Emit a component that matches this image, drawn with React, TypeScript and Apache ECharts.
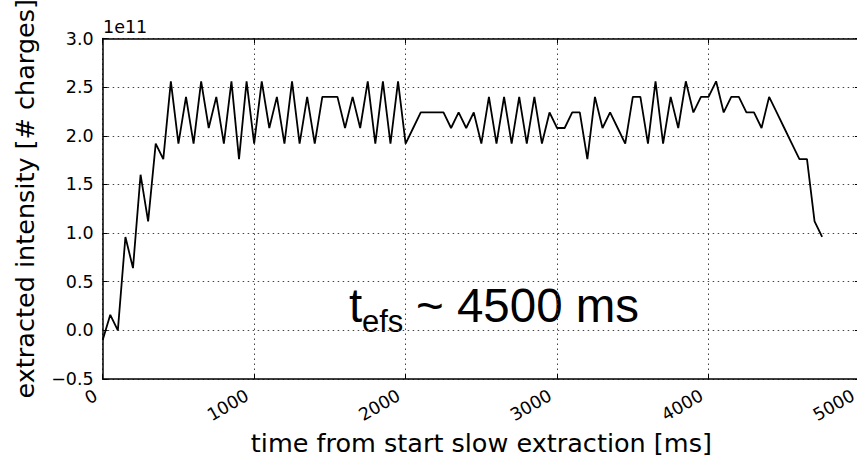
import React, { useEffect, useRef } from "react";
import * as echarts from "echarts";

// time from start of slow extraction [ms]
const timesMs = [
  0, 50, 100, 150, 200, 250, 300, 350, 400, 450,
  500, 550, 600, 650, 700, 750, 800, 850, 900, 950,
  1000, 1050, 1100, 1150, 1200, 1250, 1300, 1350, 1400, 1450,
  1500, 1550, 1600, 1650, 1700, 1750, 1800, 1850, 1900, 1950,
  2000, 2050, 2100, 2150, 2200, 2250, 2300, 2350, 2400, 2450,
  2500, 2550, 2600, 2650, 2700, 2750, 2800, 2850, 2900, 2950,
  3000, 3050, 3100, 3150, 3200, 3250, 3300, 3350, 3400, 3450,
  3500, 3550, 3600, 3650, 3700, 3750, 3800, 3850, 3900, 3950,
  4000, 4050, 4100, 4150, 4200, 4250, 4300, 4350, 4400, 4450,
  4500, 4550, 4600, 4650, 4700, 4750,
];

// extracted intensity [# charges], in units of 1e11
const intensity = [
  -0.1, 0.16, 0.0, 0.96, 0.64, 1.6, 1.12, 1.92, 1.76, 2.56,
  1.92, 2.4, 1.92, 2.56, 2.08, 2.4, 1.92, 2.56, 1.76, 2.56,
  1.92, 2.56, 2.08, 2.4, 1.92, 2.56, 1.92, 2.4, 1.92, 2.4,
  2.4, 2.4, 2.08, 2.4, 2.08, 2.56, 1.92, 2.56, 1.92, 2.56,
  1.92, 2.08, 2.24, 2.24, 2.24, 2.24, 2.08, 2.24, 2.08, 2.24,
  1.92, 2.4, 1.92, 2.4, 1.92, 2.4, 1.92, 2.4, 1.92, 2.24,
  2.08, 2.08, 2.24, 2.24, 1.76, 2.4, 2.08, 2.24, 2.08, 1.92,
  2.4, 2.4, 1.92, 2.56, 1.92, 2.4, 2.08, 2.56, 2.24, 2.4,
  2.4, 2.56, 2.24, 2.4, 2.4, 2.24, 2.24, 2.08, 2.4, 2.24,
  2.08, 1.92, 1.76, 1.76, 1.12, 0.96,
];

const xTitle = "time from start slow extraction [ms]";
const yTitle = "extracted intensity [# charges]";
const offsetText = "1e11";
const annotationMain = "t";
const annotationSub = "efs";
const annotationRest = "~ 4500 ms";

const TICK_FONT = "DejaVu Sans";
const ANNOT_FONT = "Liberation Sans";

export default function App() {
  const ref = useRef<HTMLDivElement>(null);

  useEffect(() => {
    if (!ref.current) return;
    const chart = echarts.init(ref.current, undefined, { renderer: "svg" });
    const data = timesMs.map((t, i) => [t, intensity[i]]);

    const gridLine = {
      show: true,
      lineStyle: { color: "#444", width: 1, type: [1.5, 3.5] as any },
    };
    const tickCommon = { show: true, inside: true, length: 5, lineStyle: { color: "#000", width: 1 } };

    chart.setOption({
      animation: false,
      backgroundColor: "#fff",
      grid: {
        left: 102.7,
        right: 10,
        top: 38.5,
        bottom: 78,
        containLabel: false,
        outerBoundsMode: "none",
      },
      xAxis: [
        {
          type: "value",
          min: 0,
          max: 5000,
          interval: 1000,
          position: "bottom",
          name: xTitle,
          nameLocation: "middle",
          nameGap: 51,
          nameTextStyle: { fontFamily: TICK_FONT, fontSize: 25.5, color: "#000" },
          axisLine: { show: true, onZero: false, lineStyle: { color: "#000", width: 1.5 } },
          axisTick: tickCommon,
          axisLabel: {
            rotate: 30,
            margin: 11,
            padding: [0, 8, 0, 0],
            fontFamily: TICK_FONT,
            fontSize: 17.5,
            color: "#000",
            showMinLabel: true,
            showMaxLabel: true,
            formatter: (v: number) => String(v),
          },
          splitLine: gridLine,
        },
        {
          type: "value",
          min: 0,
          max: 5000,
          interval: 1000,
          position: "top",
          axisLine: { show: true, onZero: false, lineStyle: { color: "#000", width: 1.5 } },
          axisTick: tickCommon,
          axisLabel: { show: false },
          splitLine: { show: false },
        },
      ],
      yAxis: [
        {
          type: "value",
          min: -0.5,
          max: 3.0,
          interval: 0.5,
          position: "left",
          name: yTitle,
          nameLocation: "middle",
          nameGap: 65,
          nameRotate: 90,
          nameTextStyle: {
            fontFamily: TICK_FONT,
            fontSize: 25.5,
            color: "#000",
            padding: [0, 0, 0, 20],
          },
          axisLine: { show: true, onZero: false, lineStyle: { color: "#000", width: 1.5 } },
          axisTick: tickCommon,
          axisLabel: {
            margin: 9,
            fontFamily: TICK_FONT,
            fontSize: 17.5,
            color: "#000",
            formatter: (v: number) => v.toFixed(1).replace("-", "\u2212"),
          },
          splitLine: gridLine,
        },
        {
          type: "value",
          min: -0.5,
          max: 3.0,
          interval: 0.5,
          position: "right",
          axisLine: { show: true, onZero: false, lineStyle: { color: "#000", width: 1.5 } },
          axisTick: tickCommon,
          axisLabel: { show: false },
          splitLine: { show: false },
        },
      ],
      series: [
        {
          type: "line",
          data,
          xAxisIndex: 0,
          yAxisIndex: 0,
          symbol: "none",
          lineStyle: { color: "#000", width: 1.8 },
        },
      ],
      graphic: [
        {
          type: "text",
          x: 103,
          y: 26.8,
          style: {
            text: offsetText,
            font: `17.5px "${TICK_FONT}"`,
            fill: "#000",
            textAlign: "left",
            textVerticalAlign: "middle",
          },
        },
        {
          type: "text",
          x: 349,
          y: 305.5,
          style: {
            text: annotationMain,
            font: `47.5px "${ANNOT_FONT}"`,
            fill: "#000",
            textAlign: "left",
            textVerticalAlign: "middle",
          },
        },
        {
          type: "text",
          x: 362,
          y: 321.5,
          style: {
            text: annotationSub,
            font: `31px "${ANNOT_FONT}"`,
            fill: "#000",
            textAlign: "left",
            textVerticalAlign: "middle",
          },
        },
        {
          type: "text",
          x: 416,
          y: 305.5,
          style: {
            text: annotationRest,
            font: `47.5px "${ANNOT_FONT}"`,
            fill: "#000",
            textAlign: "left",
            textVerticalAlign: "middle",
          },
        },
      ],
    });

    return () => chart.dispose();
  }, []);

  return (
    <div
      style={{
        position: "fixed",
        left: 0,
        top: 0,
        width: 857,
        height: 457,
        overflow: "hidden",
        background: "#fff",
      }}
    >
      <div ref={ref} style={{ width: 870, height: 457 }} />
    </div>
  );
}
